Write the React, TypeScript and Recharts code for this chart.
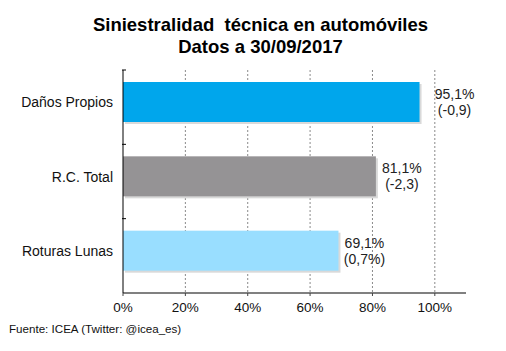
import React from 'react';
import { BarChart, Bar, XAxis, YAxis, CartesianGrid, LabelList, Cell } from 'recharts';

// Siniestralidad técnica en automóviles, datos a 30/09/2017
const categories = ['Daños Propios', 'R.C. Total', 'Roturas Lunas'];
const ratios = [0.951, 0.811, 0.691];
const ratioLabels = ['95,1%', '81,1%', '69,1%'];
const changeLabels = ['(-0,9)', '(-2,3)', '(0,7%)'];
const barColors = ['#00A6EC', '#959395', '#99DEFF'];
const xTicks = [0, 0.2, 0.4, 0.6, 0.8, 1];
const X_MAX = 1.1;

const data = categories.map((label, i) => ({
  label,
  value: ratios[i],
  ratio: ratioLabels[i],
  change: changeLabels[i],
}));

const FONT = '"Liberation Sans", Arial, sans-serif';
const PLOT_TOP = 70;
const PLOT_BOTTOM = 293;
const BAND = (PLOT_BOTTOM - PLOT_TOP) / categories.length;
const BAR_SHIFT = -5; // bars sit a bit above the band centre in the original
const LABEL_DX = [35, 26, 26]; // first label is nudged past the 100% line

function CategoryTick(props: any) {
  const { x, y, payload } = props;
  return (
    <g>
      <line x1={x + 7} x2={x + 11} y1={y - BAND / 2} y2={y - BAND / 2} stroke="#000" />
      <text x={x - 2} y={y + BAR_SHIFT} dy={5} textAnchor="end" fontSize={14} fill="#111" fontFamily={FONT}>
        {payload.value}
      </text>
    </g>
  );
}

function ShadowBar(props: any) {
  const { x, y, width, height, fill } = props;
  return (
    <g>
      <rect x={x + 2} y={y + BAR_SHIFT + 2} width={width} height={height} fill="#d9d9d9" />
      <rect x={x} y={y + BAR_SHIFT} width={width} height={height} fill={fill} />
    </g>
  );
}

function ValueLabel(props: any) {
  const { x, y, width, height, index } = props;
  const cx = x + width + LABEL_DX[index];
  const cy = y + height / 2 + BAR_SHIFT;
  return (
    <text textAnchor="middle" fontSize={14} fill="#222" fontFamily={FONT}>
      <tspan x={cx} y={cy - 3}>{data[index].ratio}</tspan>
      <tspan x={cx} y={cy + 13}>{data[index].change}</tspan>
    </text>
  );
}

export default function App() {
  return (
    <div style={{ position: 'fixed', left: 0, top: 0, width: 506, height: 351, background: '#fff', fontFamily: FONT }}>
      <div
        style={{
          position: 'absolute',
          left: 0,
          top: 14,
          width: 521,
          textAlign: 'center',
          fontWeight: 'bold',
          fontSize: 18.5,
          lineHeight: '22px',
          color: '#000',
        }}
      >
        Siniestralidad&nbsp; técnica en automóviles
        <br />
        Datos a 30/09/2017
      </div>
      <BarChart
        width={506}
        height={351}
        data={data}
        layout="vertical"
        margin={{ top: PLOT_TOP, right: 40, bottom: 36, left: 0 }}
      >
        <CartesianGrid
          vertical
          horizontal={false}
          stroke="#8a8a8a"
          strokeDasharray="2 2"
          verticalCoordinatesGenerator={({ offset }: any) =>
            xTicks.slice(1).map((t) => offset.left + (offset.width * t) / X_MAX)
          }
        />
        <XAxis
          type="number"
          domain={[0, X_MAX]}
          ticks={xTicks}
          tickFormatter={(v: number) => `${Math.round(v * 100)}%`}
          tick={{ fontSize: 13.5, fill: '#111', fontFamily: FONT }}
          tickSize={3}
          tickMargin={6}
          tickLine={{ stroke: '#444' }}
          axisLine={{ stroke: '#808080', strokeWidth: 2 }}
          height={22}
          interval={0}
        />
        <YAxis
          type="category"
          dataKey="label"
          width={123}
          tick={<CategoryTick />}
          tickLine={false}
          axisLine={{ stroke: '#000' }}
        />
        <Bar dataKey="value" barSize={40} shape={<ShadowBar />} isAnimationActive={false}>
          {data.map((d, i) => (
            <Cell key={d.label} fill={barColors[i]} />
          ))}
          <LabelList dataKey="value" content={<ValueLabel />} />
        </Bar>
      </BarChart>
      <div style={{ position: 'absolute', left: 9, top: 322, fontSize: 11.6, color: '#111' }}>
        Fuente: ICEA (Twitter: @icea_es)
      </div>
    </div>
  );
}
